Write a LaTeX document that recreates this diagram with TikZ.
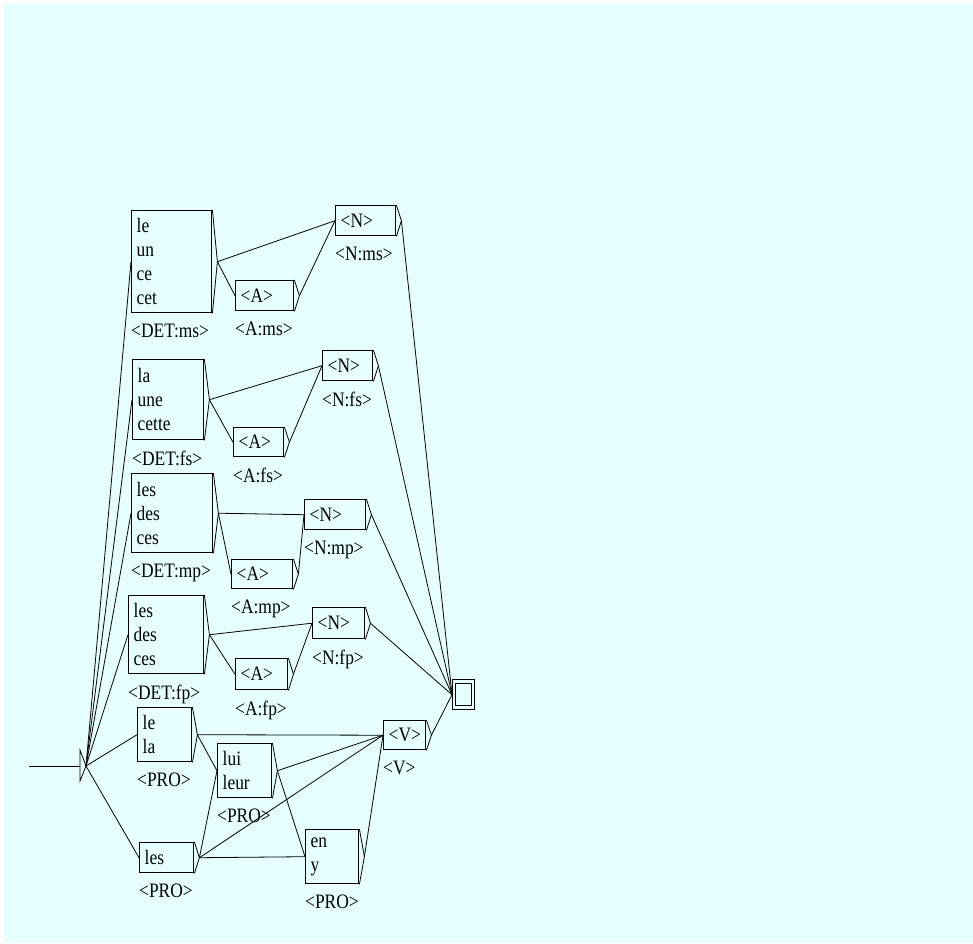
\documentclass[tikz,border=0pt]{standalone}
\usepackage{fontspec}
\setmainfont{Liberation Serif}[FakeStretch=0.85]
\usetikzlibrary{positioning}
\definecolor{Bg}{HTML}{E6FFFF}
\tikzset{box/.style={draw,line width=1.4pt,anchor=north west,align=left,inner xsep=5pt,inner ysep=0pt,font=\fontsize{20.5}{24}\selectfont},outlbl/.style={anchor=north west,inner sep=0pt,font=\fontsize{20.5}{24}\selectfont},link/.style={line width=0.8pt}}
\newcommand{\boxtip}[1]{\draw[link](#1.north east)--([xshift=5pt]#1.east)coordinate(#1-t)--(#1.south east);}

\begin{document}
\begin{tikzpicture}[x=1pt,y=-1pt]
      \useasboundingbox (0,0) rectangle (973,943);
      \fill[white](0,0) rectangle (973,943);
      \fill[Bg](4,3) rectangle (973,943);
      % initial state
      \coordinate (in) at (29,766);\coordinate (initL) at (80,766);
      \draw[link](80,750)--(86,766)coordinate(init)--(80,781)--cycle;
      \draw[link](in)--(initL);
      % determiners, adjectives, nouns
      \node[box,text width=70pt,minimum height=102pt](detms) at (131,210){le\\un\\ce\\cet};
      \node[box,text width=50pt,minimum height=30pt](nms) at (335,205){<N>};
      \node[box,text width=48pt,minimum height=30pt](ams) at (235,280){<A>};
      \node[box,text width=61pt,minimum height=80pt](detfs) at (132,359){la\\une\\cette};
      \node[box,text width=40pt,minimum height=30pt](nfs) at (322,350){<N>};
      \node[box,text width=40pt,minimum height=29pt](afs) at (233,427){<A>};
      \node[box,text width=71pt,minimum height=79pt](detmp) at (131,473){les\\des\\ces};
      \node[box,text width=51pt,minimum height=30pt](nmp) at (304,499){<N>};
      \node[box,text width=51pt,minimum height=29pt](amp) at (231,559){<A>};
      \node[box,text width=65pt,minimum height=78pt](detfp) at (128,595){les\\des\\ces};
      \node[box,text width=42pt,minimum height=31pt](nfp) at (312,607){<N>};
      \node[box,text width=42pt,minimum height=31pt](afp) at (235,658){<A>};
      % pronouns and verb
      \node[box,text width=44pt,minimum height=54pt](prolela) at (137,707){le\\la};
      \node[box,text width=44pt,minimum height=30pt](proles) at (139,842){les};
      \node[box,text width=44pt,minimum height=54pt](prolui) at (217,743){lui\\leur};
      \node[box,text width=43pt,minimum height=54pt](proeny) at (305,829){en\\y};
      \node[box,text width=32pt,minimum height=29pt](verb) at (383,720){<V>};
      % final state
      \node[draw,line width=1.4pt,minimum width=22pt,minimum height=30pt,inner sep=0pt,anchor=north west](fin) at (452,679){};
      \node[draw,line width=1.4pt,minimum width=16pt,minimum height=22pt,inner sep=0pt](finin) at (fin.center){};
      % outputs
      \node[outlbl] at ([yshift=-10pt]detms.south west){<DET:ms>};
      \node[outlbl] at ([yshift=-10pt]nms.south west){<N:ms>};
      \node[outlbl] at ([yshift=-10pt]ams.south west){<A:ms>};
      \node[outlbl] at ([yshift=-10pt]detfs.south west){<DET:fs>};
      \node[outlbl] at ([yshift=-10pt]nfs.south west){<N:fs>};
      \node[outlbl] at ([yshift=-10pt]afs.south west){<A:fs>};
      \node[outlbl] at ([yshift=-10pt]detmp.south west){<DET:mp>};
      \node[outlbl] at ([yshift=-10pt]nmp.south west){<N:mp>};
      \node[outlbl] at ([yshift=-10pt]amp.south west){<A:mp>};
      \node[outlbl] at ([yshift=-10pt]detfp.south west){<DET:fp>};
      \node[outlbl] at ([yshift=-10pt]nfp.south west){<N:fp>};
      \node[outlbl] at ([yshift=-10pt]afp.south west){<A:fp>};
      \node[outlbl] at ([yshift=-10pt]prolela.south west){<PRO>};
      \node[outlbl] at ([yshift=-10pt]proles.south west){<PRO>};
      \node[outlbl] at ([yshift=-10pt]prolui.south west){<PRO>};
      \node[outlbl] at ([yshift=-10pt]proeny.south west){<PRO>};
      \node[outlbl] at ([yshift=-10pt]verb.south west){<V>};
      % box tips
      \foreach \b in {detms,nms,ams,detfs,nfs,afs,detmp,nmp,amp,detfp,nfp,afp,prolela,proles,prolui,proeny,verb}{\boxtip{\b}}
      % transitions
      \foreach \b in {detms,detfs,detmp,detfp,prolela,proles}{\draw[link](init)--(\b.west);}
      \foreach \g in {ms,fs,mp,fp}{
        \draw[link](det\g-t)--(n\g.west);\draw[link](det\g-t)--(a\g.west);
        \draw[link](a\g-t)--(n\g.west);\draw[link](n\g-t)--(fin.west);}
      \draw[link](prolela-t)--(verb.west);\draw[link](prolela-t)--(prolui.west);
      \draw[link](proles-t)--(prolui.west);\draw[link](proles-t)--(verb.west);
      \draw[link](proles-t)--(proeny.west);
      \draw[link](prolui-t)--(verb.west);\draw[link](prolui-t)--(proeny.west);
      \draw[link](proeny-t)--(verb.west);\draw[link](verb-t)--(fin.west);
    \end{tikzpicture}
\end{document}
